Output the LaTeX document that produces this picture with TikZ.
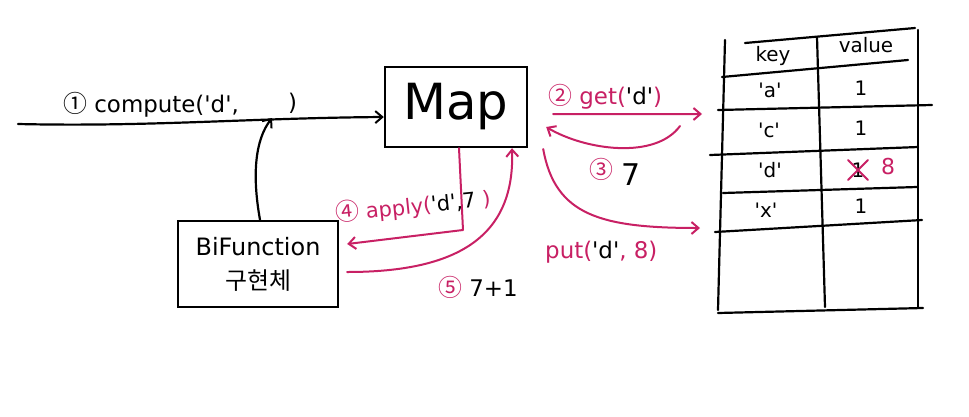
\documentclass[tikz,border=0pt]{standalone}
\usepackage{fontspec}
\setmainfont{DejaVu Sans}
\newfontfamily\cjk{Noto Sans CJK KR}
\usetikzlibrary{arrows.meta}
\definecolor{mg}{RGB}{200,32,100}
\tikzset{
  pen/.style={line width=2.2bp, black, line cap=round, line join=round},
  mpen/.style={line width=2bp, mg, line cap=round, line join=round},
  tip/.style={-{Straight Barb[length=7bp,width=12bp,line width=2bp]}},
  boxnode/.style={draw, line width=2.4bp, rectangle, inner sep=0pt},
  lbl/.style={inner sep=0pt, font=\fontsize{23}{25}\selectfont},
  tlbl/.style={inner sep=0pt, font=\fontsize{20}{22}\selectfont},
}
\newcommand{\K}[1]{\textcolor{black}{#1}}
\newcommand{\qs}{\textquotesingle}
\newcommand{\cn}[1]{{\cjk\fontsize{24}{24}\selectfont #1}}
\begin{document}
\begin{tikzpicture}[x=1bp,y=-1bp]
\fill[white] (0,0) rectangle (969,416);
\useasboundingbox (0,0) rectangle (969,416);

% boxes
\node[boxnode, minimum width=142bp, minimum height=80bp] (map) at (456,107)
  {\fontsize{50}{52}\selectfont Map};
\node[boxnode, minimum width=160bp, minimum height=86bp, align=center,
      font=\fontsize{24}{34}\selectfont] (bif) at (258,264)
  {BiFunction\\{\cjk 구현체}};

% main input arrow
\coordinate (start) at (18,124);
\draw[pen, tip] (start) .. controls (150,127) and (250,118) .. ([yshift=-10bp]map.west);
\node[lbl, anchor=base west] (c1) at (63,112) {\cn{①} compute(\qs d\qs,};
\node[lbl, anchor=base west] (c2) at (288,110) {)};

% bifunction into the blank
\coordinate (slot) at (272,118);
\draw[pen, tip] ([xshift=2bp]bif.north) .. controls (252,175) and (255,140) .. (slot);

% 4 apply
\coordinate (a4) at (463,230);
\draw[mpen, tip] ([xshift=3bp]map.south) -- (a4) -- ([xshift=8bp,yshift=20bp]bif.east);
\node[lbl, text=mg, rotate=6, anchor=base west, font=\fontsize{21}{23}\selectfont] (l4) at (336,222)
  {\cn{④} apply(\K{\qs d\qs,7} )};

% 5 result
\draw[mpen, tip] ([xshift=8bp,yshift=-8bp]bif.east) .. controls (460,272) and (515,235) .. ([xshift=56bp]map.south);
\node[lbl, anchor=base west] (l5) at (438,296) {\textcolor{mg}{\cn{⑤}} 7+1};

% table coordinates
\coordinate (tget) at (702,114);
\coordinate (tret) at (680,126);
\coordinate (tput) at (700,228);

% 2 get
\draw[mpen, tip] ([xshift=25bp,yshift=-7bp]map.east) -- (tget);
\node[lbl, text=mg, anchor=base west] (l2) at (548,104) {\cn{②} get(\K{\qs d\qs})};

% 3 return
\draw[mpen, tip] (tret) .. controls (655,160) and (585,150) .. ([xshift=18bp,yshift=-20bp]map.east);
\node[lbl, text=mg, anchor=base west] (l3) at (589,178) {\cn{③}};
\node[lbl, anchor=base west, font=\fontsize{30}{32}\selectfont] (l3b) at (621,185) {7};

% put
\draw[mpen, tip] ([xshift=15bp,yshift=-42bp]map.east) .. controls (555,215) and (600,228) .. (tput);
\node[lbl, text=mg, anchor=base west] (lp) at (545,258) {put(\K{\qs d\qs}, 8)};

% table
\draw[pen] (725,40) -- (718,310);
\draw[pen] (817,37) -- (825,307);
\draw[pen] (918,30) -- (918,307);
\draw[pen] (745,43) -- (915,28);
\draw[pen] (722,77) -- (908,60);
\draw[pen] (718,110) -- (932,105);
\draw[pen] (710,155) -- (918,147);
\draw[pen] (723,193) -- (917,187);
\draw[pen] (715,232) -- (922,220);
\draw[pen] (718,313) -- (923,308);

\node[tlbl] (hk) at (773,56) {key};
\node[tlbl] (hv) at (866,45) {value};
\node[tlbl] (ka) at (770,90) {\qs a\qs};
\node[tlbl] (va) at (861,88) {1};
\node[tlbl] (kc) at (769,130) {\qs c\qs};
\node[tlbl] (vc) at (861,128) {1};
\node[tlbl] (kd) at (770,170) {\qs d\qs};
\node[tlbl] (vd) at (858,170) {1};
\draw[mpen] ([xshift=-10bp,yshift=-10bp]vd.center) -- ([xshift=10bp,yshift=10bp]vd.center);
\draw[mpen] ([xshift=-10bp,yshift=10bp]vd.center) -- ([xshift=10bp,yshift=-10bp]vd.center);
\node[tlbl, text=mg, font=\fontsize{22}{24}\selectfont] (vd8) at (888,167) {8};
\node[tlbl] (kx) at (766,210) {\qs x\qs};
\node[tlbl] (vx) at (861,206) {1};
\end{tikzpicture}
\end{document}
